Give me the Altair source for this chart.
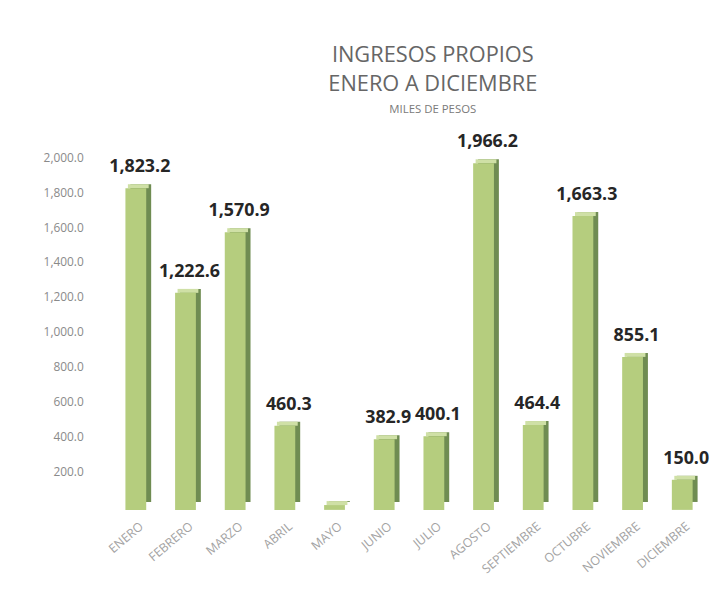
import altair as alt
import pandas as pd

meses = ["ENERO", "FEBRERO", "MARZO", "ABRIL", "MAYO", "JUNIO", "JULIO",
         "AGOSTO", "SEPTIEMBRE", "OCTUBRE", "NOVIEMBRE", "DICIEMBRE"]
valores = [1823.2, 1222.6, 1570.9, 460.3, 5.0, 382.9, 400.1,
           1966.2, 464.4, 1663.3, 855.1, 150.0]
etiquetas = ["1,823.2", "1,222.6", "1,570.9", "460.3", "", "382.9", "400.1",
             "1,966.2", "464.4", "1,663.3", "855.1", "150.0"]

df = pd.DataFrame({"mes": meses, "valor": valores, "etiqueta": etiquetas})

FONT = "Open Sans"

x = alt.X("mes:N", sort=meses, title=None,
          scale=alt.Scale(paddingInner=0.0, paddingOuter=0.0),
          axis=alt.Axis(labelAngle=-40, labelColor="#a3a3a3", labelFontSize=12.5,
                        labelFont=FONT, ticks=False, domain=False, labelPadding=14))
y = alt.Y("valor:Q", title=None,
          scale=alt.Scale(domain=[0, 2000], nice=False),
          axis=alt.Axis(values=list(range(0, 2001, 200)), grid=False, domain=False,
                        ticks=False, labelColor="#8a8a8a", labelFontSize=12,
                        labelFont=FONT, labelPadding=30,
                        labelExpr="datum.value == 0 ? '' : format(datum.value, ',.1f')"))

base = alt.Chart(df).encode(x=x, y=y)

side = base.mark_bar(width=21, xOffset=3, yOffset=-4, y2Offset=-4,
                     color="#6f8c52").encode(y2=alt.datum(0))
top = base.mark_bar(width=21, xOffset=0.5, yOffset=-4, color="#cfe0a6").encode(
    y2=alt.Y2("valor:Q"))
front = base.mark_bar(width=21, xOffset=-2, yOffset=0, y2Offset=4,
                      color="#b5cd7e").encode(y2=alt.datum(0))

labels = base.mark_text(dy=-12, baseline="bottom", fontSize=18, fontWeight="bold",
                        font=FONT, color="#262626", dx=2).encode(text="etiqueta:N")

chart = (side + top + front + labels).properties(
    width=602, height=352,
    padding={"left": 35, "top": 33, "right": 5, "bottom": 5},
    title=alt.TitleParams(
        text=["INGRESOS PROPIOS", "ENERO A DICIEMBRE"],
        subtitle="MILES DE PESOS",
        font=FONT, fontSize=22, fontWeight="normal", color="#666666",
        lineHeight=30, subtitleFont=FONT, subtitleFontSize=11.5,
        subtitleColor="#7a7a7a", subtitlePadding=8, anchor="middle", dx=22,
        offset=17),
).configure_view(stroke=None)

chart.save("out.html", embed_options={"renderer": "svg", "actions": False})
